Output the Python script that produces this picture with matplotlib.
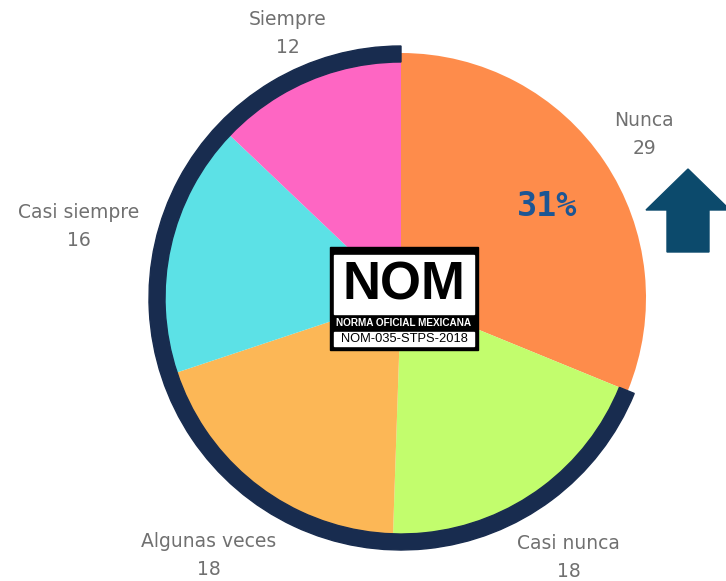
import matplotlib
matplotlib.use("Agg")
import matplotlib.pyplot as plt
import numpy as np
from matplotlib.patches import Wedge, Rectangle, Polygon

# datos de la encuesta
categorias = ["Nunca", "Casi nunca", "Algunas veces", "Casi siempre", "Siempre"]
valores = [29, 18, 18, 16, 12]
colores = ["#fe8c4b", "#c2fd6d", "#fcb756", "#5ce1e6", "#fe66c3"]

W, H = 726, 581
centro = (401, H - 298)
radio = 245
# distancia de cada etiqueta al centro (px)
dist_etiqueta = [293, 309, 321, 330, 288]

fig = plt.figure(figsize=(W / 100, H / 100), dpi=100)
ax = fig.add_axes([0, 0, 1, 1])

etiquetas = [f"{c}\n{v}" for c, v in zip(categorias, valores)]
wedges, textos = ax.pie(valores, labels=etiquetas, colors=colores, startangle=90,
                        counterclock=False, center=centro, radius=radio,
                        wedgeprops=dict(linewidth=0),
                        textprops=dict(fontsize=13.5, color="#707070", linespacing=1.6))
for t, w, d in zip(textos, wedges, dist_etiqueta):
    ang = np.deg2rad((w.theta1 + w.theta2) / 2)
    t.set_position((centro[0] + d * np.cos(ang), centro[1] + d * np.sin(ang)))
    t.set_ha("center")
    t.set_va("center")

# arco oscuro sobre todo lo que no es "Nunca"
total = sum(valores)
fin = 90 + 360 * (1 - valores[0] / total)
ax.add_patch(Wedge(centro, 252, 90, fin, width=16, color="#182c4f", zorder=3))

# porcentaje
pct = round(valores[0] / total * 100)
ax.text(547, H - 207, f"{pct}%", fontsize=24, fontweight="bold", family="DejaVu Sans Mono",
        color="#1d5694", ha="center", va="center", zorder=4)

# flecha
flecha = [(688, 169), (730, 210), (709, 210), (709, 252), (667, 252), (667, 210), (646, 210)]
ax.add_patch(Polygon([(x, H - y) for x, y in flecha], closed=True, color="#0c4a6c", zorder=4))

# logo NOM
ax.add_patch(Rectangle((330, H - 350), 148, 103, color="black", zorder=5))
ax.add_patch(Rectangle((334, H - 314), 140, 59, color="white", zorder=6))
ax.add_patch(Rectangle((334, H - 346), 140, 14, color="white", zorder=6))
ax.text(404, H - 285, "NOM", fontsize=38, fontweight="bold",
        family="Liberation Sans", color="black",
        ha="center", va="center", zorder=7)
ax.text(404, H - 322.5, "NORMA OFICIAL MEXICANA", fontsize=7.2, fontweight="bold",
        family="Liberation Sans", color="white",
        ha="center", va="center", zorder=7)
ax.text(404, H - 339, "NOM-035-STPS-2018", fontsize=9.3,
        family="Liberation Sans", color="black",
        ha="center", va="center", zorder=7)

ax.set_xlim(0, W)
ax.set_ylim(0, H)
ax.set_aspect("equal")
ax.axis("off")

fig.savefig("out.png", dpi=100, facecolor="white")
